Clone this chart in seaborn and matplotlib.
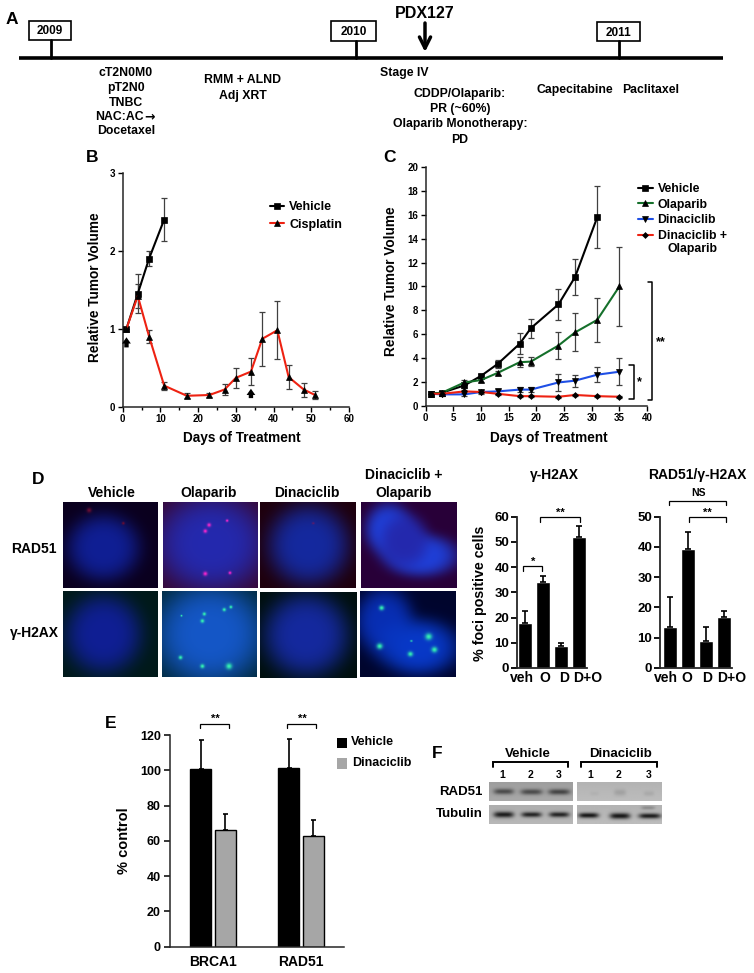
import numpy as np
import pandas as pd
import matplotlib
matplotlib.use('Agg')
import matplotlib.pyplot as plt
import seaborn as sns
from matplotlib.ticker import MultipleLocator

W, H = 754, 973

# Panel B data
b_days_vehicle = [1, 4, 7, 11]
b_vehicle = [1, 1.45, 1.9, 2.4]
b_vehicle_err = [0, 0.25, 0.1, 0.28]
b_days_cis = [1, 4, 7, 11, 17, 23, 27, 30, 34, 37, 41, 44, 48, 51]
b_cis = [1, 1.42, 0.9, 0.27, 0.14, 0.15, 0.22, 0.37, 0.45, 0.87, 0.98, 0.38, 0.22, 0.15]
b_cis_err = [0, 0.15, 0.08, 0.05, 0.03, 0.02, 0.07, 0.13, 0.17, 0.35, 0.37, 0.15, 0.09, 0.05]

# Panel C data
c_days = [1, 3, 7, 10, 13, 17, 19, 24, 27, 31, 35]
c_vehicle = [1, 1.1, 1.7, 2.5, 3.5, 5.2, 6.5, 8.5, 10.8, 15.8]
c_vehicle_err = [0, 0.1, 0.2, 0.2, 0.3, 0.9, 0.8, 1.3, 1.5, 2.6]
c_olaparib = [1, 1.1, 1.95, 2.15, 2.75, 3.65, 3.7, 5.05, 6.15, 7.2, 10]
c_olaparib_err = [0, 0.1, 0.2, 0.2, 0.2, 0.4, 0.4, 1.1, 1.6, 1.85, 3.3]
c_dina = [1, 0.95, 0.95, 1.15, 1.2, 1.35, 1.35, 1.95, 2.1, 2.6, 2.85]
c_dina_err = [0, 0.1, 0.1, 0.15, 0.2, 0.2, 0.2, 0.7, 0.5, 0.65, 1.15]
c_combo = [1, 1, 1.2, 1.15, 1.0, 0.8, 0.8, 0.75, 0.9, 0.8, 0.75]
c_combo_err = [0, 0.1, 0.15, 0.1, 0.1, 0.1, 0.1, 0.1, 0.1, 0.1, 0.1]

# Panel D bars
d_labels = ['veh', 'O', 'D', 'D+O']
d_h2ax = [18, 34.3, 8.7, 51.8]
d_h2ax_err = [4.6, 2.2, 1.2, 4.4]
d_rad51 = [13.6, 39.4, 9, 17]
d_rad51_err = [9.7, 5.4, 4.5, 2]

# Panel E bars
e_genes = ['BRCA1', 'RAD51']
e_vehicle = [101, 101.5]
e_vehicle_err = [16, 16]
e_dina = [66, 63]
e_dina_err = [9, 9]

sns.set_style('ticks')
plt.rcParams['font.family'] = ['Liberation Sans', 'DejaVu Sans']
plt.rcParams['font.weight'] = 'bold'
plt.rcParams['axes.labelweight'] = 'bold'
plt.rcParams['axes.linewidth'] = 1.1
plt.rcParams['xtick.color'] = 'black'
plt.rcParams['ytick.color'] = 'black'
plt.rcParams['text.color'] = 'black'

fig = plt.figure(figsize=(W / 100, H / 100), dpi=100, facecolor='white')


def px_axes(x0, y0, x1, y1, **kw):
    return fig.add_axes([x0 / W, 1 - y1 / H, (x1 - x0) / W, (y1 - y0) / H], **kw)


over = fig.add_axes([0, 0, 1, 1], zorder=10)
over.set_xlim(0, W)
over.set_ylim(H, 0)
over.axis('off')
over.patch.set_alpha(0)


def txt(x, y, s, size=9, ha='center', **kw):
    over.text(x, y, s, fontsize=size, ha=ha, va='center', fontweight='bold', **kw)


def bracket(x0, x1, y, drop, lw=0.9):
    over.plot([x0, x0, x1, x1], [y + drop, y, y, y + drop], color='black', lw=lw, solid_joinstyle='miter')


# Panel A: timeline
for s, x, y in [('A', 12, 19), ('B', 92, 157), ('C', 389, 157), ('D', 38, 479), ('E', 111, 724), ('F', 437, 754)]:
    txt(x, y, s, size=12.5)
over.plot([19, 723], [58, 58], color='black', lw=2.6, solid_capstyle='butt')
for year, tick, x0, x1, y0, y1 in [('2009', 51, 29, 71, 21, 40), ('2010', 356, 331, 376, 21, 41), ('2011', 619, 597, 640, 22, 41)]:
    mid = (x0 + x1) / 2
    over.plot([tick, tick], [y1, 58], color='black', lw=2)
    over.add_patch(plt.Rectangle((x0, y0), x1 - x0, y1 - y0, fc='white', ec='black', lw=1.2))
    txt(mid, (y0 + y1) / 2 + 1, year, size=8.5)
txt(425, 13, 'PDX127', size=11.5)
over.annotate('', xy=(425, 52), xytext=(425, 23), arrowprops=dict(arrowstyle='->', lw=2.5, color='black', mutation_scale=20, shrinkA=0, shrinkB=0))
for s, x, y in [('cT2N0M0', 126, 73), ('pT2N0', 126, 88), ('TNBC', 126, 103), ('NAC:AC', 119, 117), ('Docetaxel', 126, 131),
                ('RMM + ALND', 243, 80), ('Adj XRT', 243, 96), ('Stage IV', 404, 73),
                ('CDDP/Olaparib:', 460, 94), ('PR (~60%)', 460, 109), ('Olaparib Monotherapy:', 460, 124), ('PD', 460, 140),
                ('Capecitabine', 575, 90), ('Paclitaxel', 651, 90)]:
    txt(x, y, s, size=8.8)
txt(150, 116.5, '→', size=9, family='DejaVu Sans')


def curve(ax, days, vals, errs, color, marker, label, ms):
    df = pd.DataFrame({'day': days, 'val': vals})
    sns.lineplot(data=df, x='day', y='val', ax=ax, color=color, marker=marker, markersize=ms,
                 markeredgecolor='black', markerfacecolor='black', markeredgewidth=0.5, lw=1.5, label=label, errorbar=None, zorder=3)
    ax.errorbar(days, vals, yerr=errs, fmt='none', ecolor='#404040', elinewidth=0.9, capsize=2.5, capthick=0.9, zorder=2)


def style_curve(ax, title_x, title_y, lab_x, lab_y):
    sns.despine(ax=ax)
    ax.set_xlabel('')
    ax.set_ylabel('')
    ax.tick_params(axis='both', labelsize=7, length=3.5, width=1, pad=2)
    ax.patch.set_alpha(0)
    txt(title_x, title_y, 'Days of Treatment', size=9.8)
    txt(lab_x, lab_y, 'Relative Tumor Volume', size=9.8, rotation=90)


# Panel B
ax = px_axes(122.7, 172.7, 349, 406.7)
curve(ax, b_days_vehicle, b_vehicle, b_vehicle_err, 'black', 's', 'Vehicle', 4.2)
curve(ax, b_days_cis, b_cis, b_cis_err, '#ee2212', '^', 'Cisplatin', 3.8)
ax.set_xlim(0, 60)
ax.set_ylim(0, 3)
ax.xaxis.set_major_locator(MultipleLocator(10))
ax.xaxis.set_minor_locator(MultipleLocator(5))
ax.yaxis.set_major_locator(MultipleLocator(1))
ax.tick_params(axis='x', which='minor', length=2.5, width=1)
style_curve(ax, 242, 438, 95, 287)
for x, y0, y1 in [(1, 0.76, 0.89), (34, 0.11, 0.23)]:
    ax.annotate('', xy=(x, y1), xytext=(x, y0),
                arrowprops=dict(arrowstyle='simple,head_length=0.5,head_width=0.7,tail_width=0.35', color='black', mutation_scale=9, shrinkA=0, shrinkB=0, lw=0))
ax.legend(loc='upper left', bbox_to_anchor=(270 / W, 1 - 201 / H), bbox_transform=fig.transFigure, frameon=False,
          fontsize=9, handlelength=1.12, handletextpad=0.4, labelspacing=0.45, borderpad=0, borderaxespad=0)

# Panel C
ax = px_axes(425.7, 167.3, 647, 405.7)
curve(ax, c_days[:10], c_vehicle, c_vehicle_err, 'black', 's', 'Vehicle', 4.6)
curve(ax, c_days, c_olaparib, c_olaparib_err, '#15702b', '^', 'Olaparib', 4)
curve(ax, c_days, c_dina, c_dina_err, '#1f4fe6', 'v', 'Dinaciclib', 4)
curve(ax, c_days, c_combo, c_combo_err, '#ee2212', 'D', 'Dinaciclib +', 3)
ax.set_xlim(0, 40)
ax.set_ylim(0, 20)
ax.xaxis.set_major_locator(MultipleLocator(5))
ax.yaxis.set_major_locator(MultipleLocator(2))
style_curve(ax, 549, 438, 391, 281)
ax.legend(loc='upper left', bbox_to_anchor=(638 / W, 1 - 183 / H), bbox_transform=fig.transFigure, frameon=False,
          fontsize=8.8, handlelength=1.2, handletextpad=0.4, labelspacing=0.3, borderpad=0, borderaxespad=0)
txt(668, 249, 'Olaparib', size=8.8, ha='left')
over.plot([648, 652, 652, 648], [282, 282, 400, 400], color='black', lw=1.1)
txt(661, 342, '**', size=9)
over.plot([629, 634, 634, 629], [365, 365, 399, 399], color='black', lw=1.1)
txt(639, 382, '*', size=9)

# Panel D: microscopy fields
rows, cols = 87, 95


def field(bg, nuclei, spots, spot_rgb):
    yy, xx = np.mgrid[0:rows, 0:cols]
    u, v = xx / cols, yy / rows
    img = np.ones((rows, cols, 3)) * np.array(bg)
    for cx, cy, rx, ry, rgb in nuclei:
        d = ((u - cx) / rx) ** 2 + ((v - cy) / ry) ** 2
        mask = np.exp(-d ** 2)
        img = img * (1 - mask[..., None]) + mask[..., None] * np.array(rgb)
    for cx, cy, r in spots:
        mask = np.exp(-((u - cx) ** 2 + ((v - cy) * rows / cols) ** 2) / r ** 2)
        img = img * (1 - mask[..., None]) + mask[..., None] * np.array(spot_rgb)
    return np.clip(img, 0, 1)


magenta = (0.95, 0.15, 0.8)
mint = (0.2, 0.95, 0.7)
blue1 = (0.06, 0.12, 0.58)
blue2 = (0.14, 0.16, 0.68)
blue3 = (0.08, 0.16, 0.62)
blue4 = (0.12, 0.25, 0.85)
cyan2 = (0.08, 0.34, 0.78)
fields = [
    ((63.3, 501.7, 158, 588.3), (0.04, 0.0, 0.12), [(0.42, 0.53, 0.38, 0.38, blue1)], [(0.27, 0.1, 0.025), (0.63, 0.25, 0.015)], (0.4, 0.05, 0.2)),
    ((162.7, 501.7, 257, 588.3), (0.22, 0.03, 0.2), [(0.5, 0.48, 0.58, 0.55, blue2)], [(0.48, 0.27, 0.02), (0.44, 0.34, 0.02), (0.67, 0.22, 0.014), (0.44, 0.83, 0.022), (0.7, 0.82, 0.016)], magenta),
    ((260, 501.7, 356, 588.3), (0.12, 0.0, 0.05), [(0.5, 0.5, 0.42, 0.46, blue3)], [(0.55, 0.25, 0.012)], (0.4, 0.1, 0.4)),
    ((360.7, 501.7, 456, 588.3), (0.16, 0.0, 0.22), [(0.28, 0.32, 0.24, 0.3, blue4), (0.62, 0.62, 0.38, 0.24, blue4), (0.45, 0.45, 0.25, 0.3, blue2)], [], magenta),
    ((63.3, 590.7, 158, 677), (0.0, 0.1, 0.1), [(0.42, 0.5, 0.4, 0.45, blue1)], [], mint),
    ((162, 590.7, 257, 677), (0.0, 0.16, 0.22), [(0.5, 0.5, 0.58, 0.58, cyan2)], [(0.2, 0.29, 0.01), (0.44, 0.27, 0.018), (0.42, 0.35, 0.02), (0.65, 0.22, 0.018), (0.72, 0.19, 0.016), (0.19, 0.77, 0.02), (0.42, 0.87, 0.022), (0.7, 0.87, 0.032)], mint),
    ((259.5, 591.5, 356, 678), (0.0, 0.06, 0.05), [(0.47, 0.5, 0.44, 0.48, blue3)], [], mint),
    ((360, 590.7, 456, 677), (0.0, 0.02, 0.18), [(0.25, 0.35, 0.3, 0.38, (0.03, 0.18, 0.7)), (0.6, 0.65, 0.42, 0.32, (0.03, 0.22, 0.78))], [(0.22, 0.2, 0.025), (0.2, 0.64, 0.03), (0.71, 0.53, 0.035), (0.77, 0.68, 0.03), (0.52, 0.73, 0.026), (0.53, 0.58, 0.01)], mint),
]
for box, bg, nuclei, spots, spot_rgb in fields:
    a = px_axes(*box)
    a.imshow(field(bg, nuclei, spots, spot_rgb), aspect='auto', interpolation='bilinear')
    a.axis('off')

for s, x, y in [('Vehicle', 112, 493), ('Olaparib', 209, 493), ('Dinaciclib', 307, 493), ('Dinaciclib +', 404, 475), ('Olaparib', 404, 493)]:
    txt(x, y, s, size=10)
txt(57, 549, 'RAD51', size=10, ha='right')
txt(59, 633, 'γ-H2AX', size=10, ha='right')


def foci_bars(box, vals, errs, top, step, xlim, label_x):
    a = px_axes(*box)
    sns.barplot(x=d_labels, y=vals, color='black', saturation=1, width=0.78, ax=a)
    a.errorbar(range(4), vals, yerr=[np.zeros(4), errs], fmt='none', ecolor='black', elinewidth=1.2, capsize=2.5, capthick=1.2)
    sns.despine(ax=a)
    a.set_xlim(*xlim)
    a.set_ylim(0, top)
    a.yaxis.set_major_locator(MultipleLocator(step))
    a.tick_params(axis='y', labelsize=9.5, length=4, width=1.3, pad=1.5)
    a.tick_params(axis='x', length=0, labelbottom=False)
    for sp in a.spines.values():
        sp.set_linewidth(1.3)
    a.patch.set_alpha(0)
    # the source spaces these labels unevenly, wider than the bars
    for s, x in zip(d_labels, label_x):
        txt(x, 678, s, size=10)


foci_bars((517, 516.7, 587, 668), d_h2ax, d_h2ax_err, 60, 10, (-0.46, 3.42), [522, 545, 564, 588])
foci_bars((660, 516.7, 731.6, 668), d_rad51, d_rad51_err, 50, 10, (-0.56, 3.42), [666, 687, 707, 732])
txt(554, 475, 'γ-H2AX', size=10)
txt(697, 475, 'RAD51/γ-H2AX', size=10)
txt(480, 593, '% foci positive cells', size=10.3, rotation=90)
bracket(540, 580, 517, 5)
txt(560, 513, '**', size=8)
bracket(523, 542, 566, 4.5)
txt(533, 562, '*', size=8)
bracket(669, 726, 501, 4)
txt(698, 493, 'NS', size=7.5)
bracket(689, 726, 517, 5)
txt(707, 513, '**', size=8)

# Panel E
ax = px_axes(170, 735, 344, 946.7)
e_df = pd.DataFrame({
    'gene': e_genes * 2,
    'pct': e_vehicle + e_dina,
    'group': ['Vehicle'] * 2 + ['Dinaciclib'] * 2,
})
sns.barplot(data=e_df, x='gene', y='pct', hue='group', palette=['black', '#a6a6a6'], saturation=1,
            width=0.56, gap=0.17, edgecolor='black', linewidth=1, ax=ax)
for cont, errs in zip(ax.containers, [e_vehicle_err, e_dina_err]):
    for bar, err in zip(cont, errs):
        mid = bar.get_x() + bar.get_width() / 2
        ax.errorbar(mid, bar.get_height(), yerr=[[0], [err]], fmt='none', ecolor='black', elinewidth=1.2, capsize=1.8, capthick=1.2)
sns.despine(ax=ax)
ax.set_xlim(-0.489, 1.489)
ax.set_ylim(0, 120)
ax.set_xlabel('')
ax.set_ylabel('')
ax.yaxis.set_major_locator(MultipleLocator(20))
ax.tick_params(axis='y', labelsize=9, length=4.5, width=1.1, pad=2)
ax.tick_params(axis='x', labelsize=10, length=0, pad=6)
ax.patch.set_alpha(0)
ax.legend_.remove()
txt(124, 841, '% control', size=10.5, rotation=90)
over.add_patch(plt.Rectangle((337, 738), 10, 10, fc='black', ec='none'))
over.add_patch(plt.Rectangle((337, 758), 10, 11, fc='#a6a6a6', ec='none'))
txt(351, 742, 'Vehicle', size=9, ha='left')
txt(352, 763, 'Dinaciclib', size=9, ha='left')
bracket(200, 229, 724, 4)
txt(215, 719, '**', size=8)
bracket(287, 316, 724, 4)
txt(302, 719, '**', size=8)

# Panel F: western blots


def blot(n_r, n_c, shade, bands):
    yy, xx = np.mgrid[0:n_r, 0:n_c]
    u, v = xx / n_c, yy / n_r
    img = np.full((n_r, n_c), shade, dtype=float) + 0.04 * (v - 0.5)
    for cx, cy, rx, ry, dark in bands:
        img -= dark * np.exp(-(((u - cx) / rx) ** 2) ** 2 - ((v - cy) / ry) ** 2)
    return np.clip(img, 0, 1)


blots = [
    ((489, 782, 573, 801), 0.64, [(0.17, 0.5, 0.12, 0.14, 0.35), (0.5, 0.52, 0.13, 0.14, 0.35), (0.83, 0.52, 0.13, 0.14, 0.38)]),
    ((577, 782, 662, 801), 0.72, [(0.5, 0.55, 0.07, 0.16, 0.09), (0.84, 0.6, 0.06, 0.12, 0.06), (0.2, 0.6, 0.05, 0.1, 0.03)]),
    ((489, 805, 573, 824), 0.70, [(0.17, 0.48, 0.12, 0.16, 0.58), (0.5, 0.48, 0.12, 0.14, 0.55), (0.83, 0.48, 0.12, 0.14, 0.55)]),
    ((577, 805, 662, 824), 0.72, [(0.13, 0.52, 0.12, 0.14, 0.62), (0.5, 0.55, 0.12, 0.16, 0.62), (0.85, 0.55, 0.13, 0.14, 0.6), (0.83, 0.12, 0.08, 0.1, 0.15)]),
]
for box, shade, bands in blots:
    a = px_axes(*box)
    a.imshow(blot(19, 84, shade, bands), cmap='gray', vmin=0, vmax=1, aspect='auto', interpolation='bilinear')
    a.axis('off')
txt(528, 754, 'Vehicle', size=9.5)
txt(620, 754, 'Dinaciclib', size=9.5)
bracket(493, 568, 762, 5, lw=1.4)
bracket(581, 657, 762, 5, lw=1.4)
for s, x in zip('123123', [502, 531, 559, 590, 619, 649]):
    txt(x, 775, s, size=7.5)
txt(483, 792, 'RAD51', size=9.5, ha='right')
txt(483, 814, 'Tubulin', size=9.5, ha='right')

fig.savefig('out.png', dpi=100, facecolor='white')
plt.close(fig)
